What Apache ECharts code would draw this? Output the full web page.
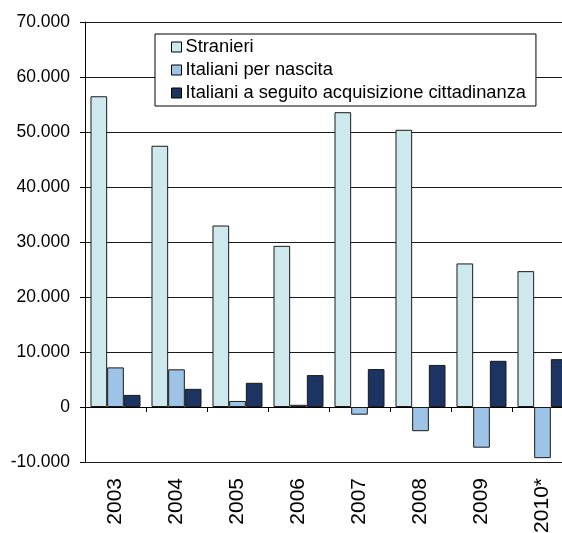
<!DOCTYPE html>
<html><head><meta charset="utf-8">
<script src="https://cdn.jsdelivr.net/npm/echarts@6/dist/echarts.min.js"></script>
<style>html,body{margin:0;padding:0;background:#fff}#c{width:562px;height:533px}</style>
</head><body><div id="c"></div>
<script>
const categories = ['2003','2004','2005','2006','2007','2008','2009','2010*'];
const stranieri = [56500, 47500, 33000, 29300, 53600, 50400, 26100, 24700];
const italianiNascita = [7200, 6850, 1100, 400, -1400, -4400, -7400, -9300];
const italianiAcquisizione = [2200, 3300, 4400, 5800, 6900, 7650, 8400, 8700];
const seriesNames = ['Stranieri','Italiani per nascita','Italiani a seguito acquisizione cittadinanza'];

const FONT = 'Liberation Sans, Arial, sans-serif';
const chart = echarts.init(document.getElementById('c'));
function fmt(v){ const s = Math.abs(v).toString().replace(/\B(?=(\d{3})+(?!\d))/g,'.'); return (v<0?'-':'')+s; }
const barStyle = c => ({color:c, borderColor:'#1a1a1a', borderWidth:1});
chart.setOption({
  animation:false,
  textStyle:{fontFamily:FONT},
  grid:{left:85, width:488, top:22, height:440, containLabel:false, outerBoundsMode:'none'},
  legend:{
    orient:'vertical', left:155, top:34,
    backgroundColor:'#fff', borderColor:'#000', borderWidth:1,
    padding:[4,10,4,16], itemGap:5, itemWidth:10, itemHeight:10,
    icon:'rect',
    itemStyle:{borderColor:'#000', borderWidth:1},
    textStyle:{fontSize:18.3, color:'#000', fontFamily:FONT, padding:[0,0,0,-1]},
    data:seriesNames
  },
  xAxis:[{
    type:'category', data:categories, position:'bottom',
    axisLine:{onZero:true, lineStyle:{color:'#000', width:1}},
    axisTick:{show:true, length:5, lineStyle:{color:'#000'}},
    axisLabel:{show:false},
    splitLine:{show:false}
  },{
    type:'category', data:categories, position:'bottom',
    axisLine:{show:false, onZero:false}, axisTick:{show:false},
    axisLabel:{rotate:90, margin:16, fontSize:21, color:'#000', fontFamily:FONT}
  }],
  yAxis:{
    type:'value', min:-10000, max:70000, interval:10000,
    axisLine:{show:true, lineStyle:{color:'#000'}},
    axisTick:{show:true, length:5, lineStyle:{color:'#000'}},
    axisLabel:{fontSize:17.5, color:'#000', margin:15, formatter:fmt, fontFamily:FONT},
    splitLine:{show:true, lineStyle:{color:'#1a1a1a', width:1}}
  },
  series:[
    {name:seriesNames[0], type:'bar', data:stranieri, itemStyle:barStyle('#cde9ee'), barGap:'0%', barCategoryGap:'18%'},
    {name:seriesNames[1], type:'bar', data:italianiNascita, itemStyle:barStyle('#9dc3e6')},
    {name:seriesNames[2], type:'bar', data:italianiAcquisizione, itemStyle:barStyle('#1c3461')}
  ]
});
</script></body></html>
